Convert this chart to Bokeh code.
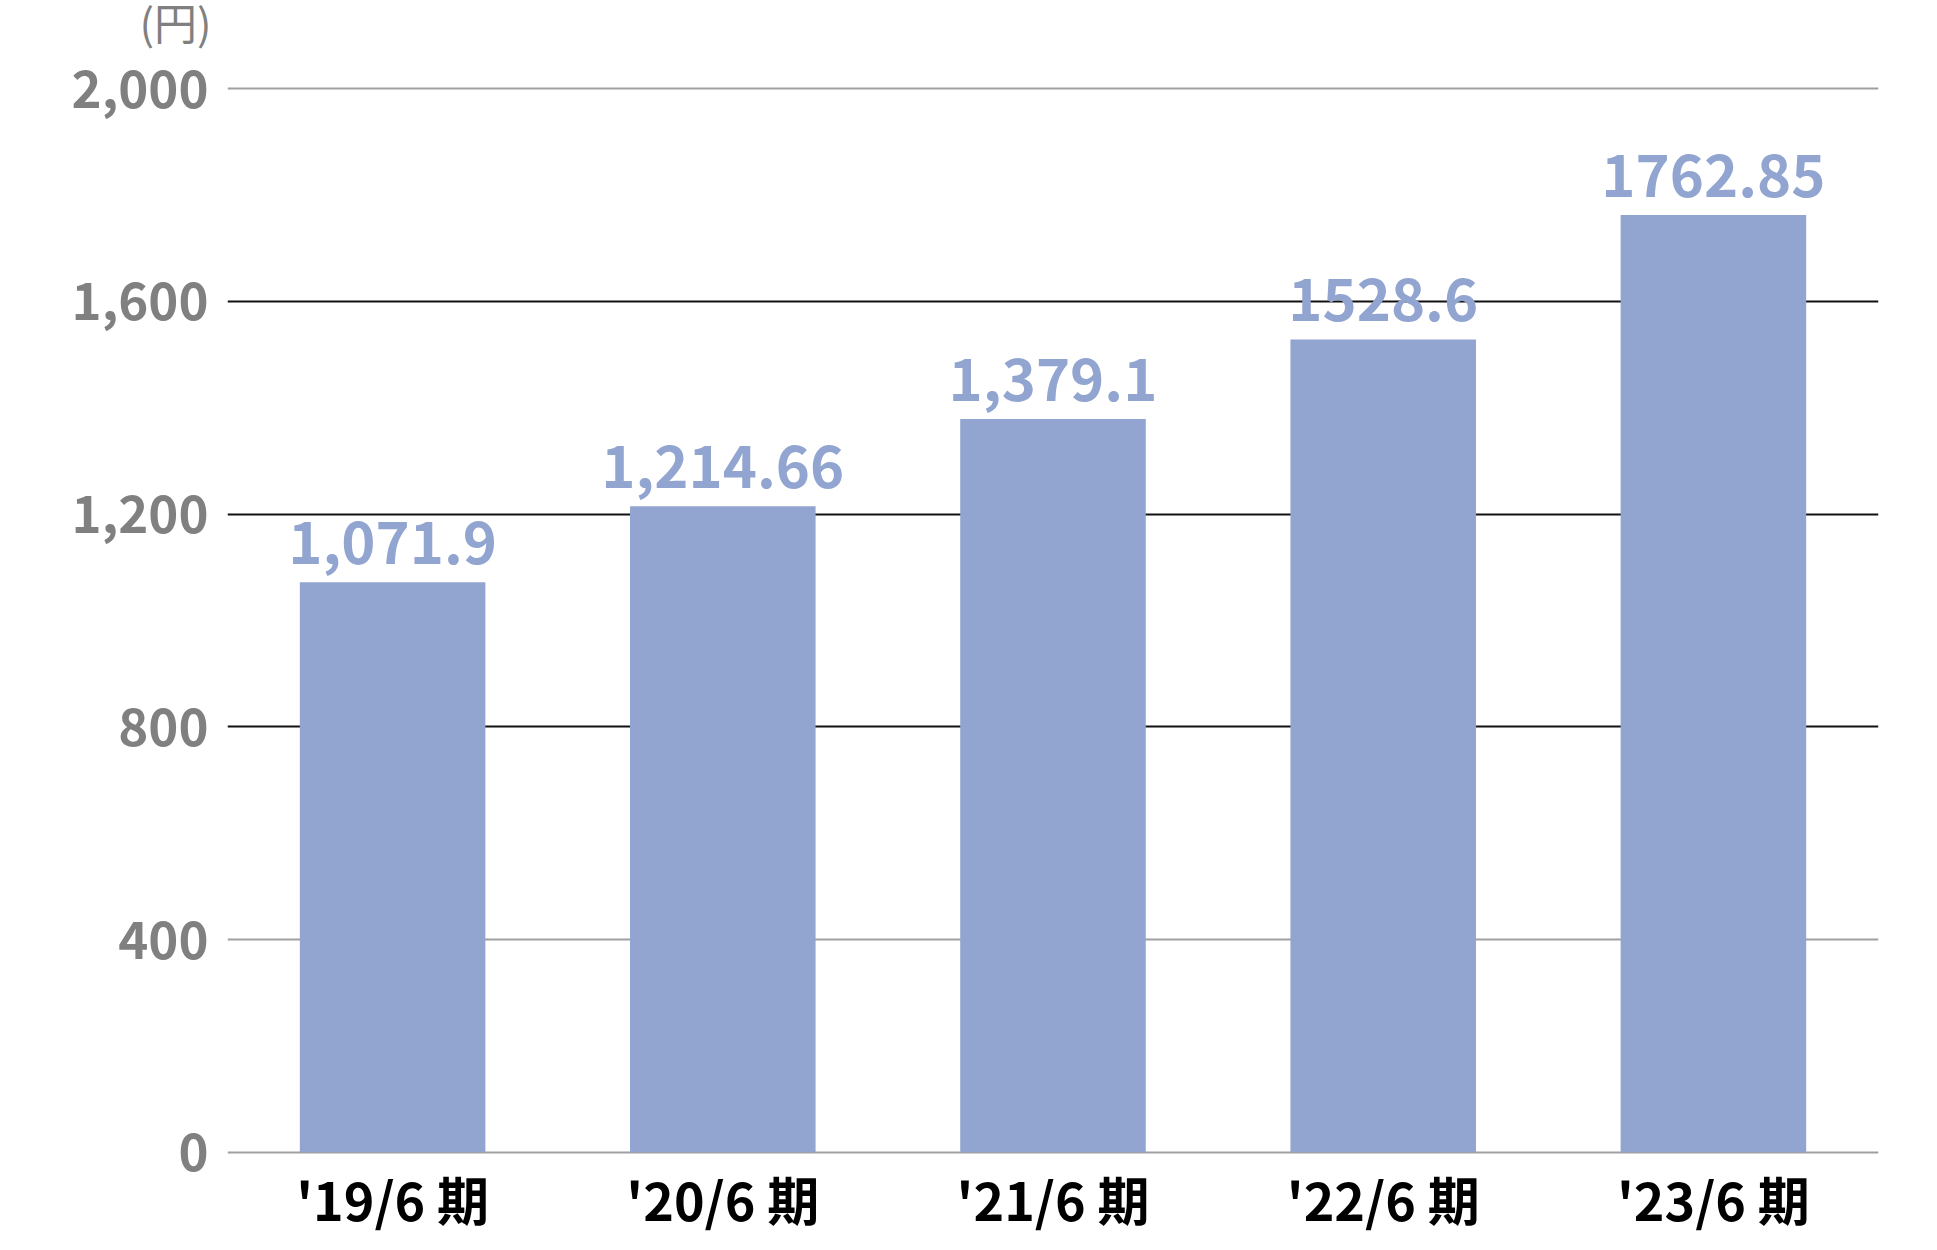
from bokeh.plotting import figure
from bokeh.models import (ColumnDataSource, FactorRange, Range1d, FixedTicker,
                          NumeralTickFormatter, Grid, LabelSet, Title)
from bokeh.core.properties import value
from bokeh.embed import file_html
from bokeh.resources import INLINE

categories = ["'19/6 期", "'20/6 期", "'21/6 期", "'22/6 期", "'23/6 期"]
values = [1071.9, 1214.66, 1379.1, 1528.6, 1762.85]
value_labels = ["1,071.9", "1,214.66", "1,379.1", "1528.6", "1762.85"]
y_ticks = [0, 400, 800, 1200, 1600, 2000]
gray_grid_ticks = [0, 400, 2000]
dark_grid_ticks = [800, 1200, 1600]
unit_text = "(円)"

FONT = "Noto Sans CJK JP"
BAR_COLOR = "#92A5D1"

src = ColumnDataSource(dict(cat=categories, val=values, lab=value_labels))

p = figure(x_range=FactorRange(*categories, range_padding=0),
           y_range=Range1d(-10, 2010),
           frame_width=1651, frame_height=1074,
           min_border_left=227, min_border_right=40,
           min_border_top=83, min_border_bottom=70,
           output_backend="svg", toolbar_location=None,
           background_fill_color="white", border_fill_color="white")
p.outline_line_color = None
p.xgrid.visible = False
p.ygrid.visible = False

# unit title; an empty second line raises the text within the top border
p.title = Title(text=unit_text + "\n", align="left", offset=-88, standoff=-30,
                vertical_align="top", text_line_height=0.73,
                text_font=FONT, text_font_size="43px",
                text_font_style="normal", text_color="#808080")

g1 = Grid(dimension=1, ticker=FixedTicker(ticks=gray_grid_ticks),
          grid_line_color="#A0A0A0", grid_line_width=2)
g2 = Grid(dimension=1, ticker=FixedTicker(ticks=dark_grid_ticks),
          grid_line_color="#111111", grid_line_width=2)
p.add_layout(g1)
p.add_layout(g2)

p.vbar(x="cat", top="val", bottom=0, width=0.562, source=src,
       fill_color=BAR_COLOR, line_color=None)

labels = LabelSet(x="cat", y="val", text="lab", source=src,
                  text_align="center", text_baseline="alphabetic",
                  y_offset=18, text_font=value(FONT), text_font_style="bold",
                  text_font_size="58px", text_color=BAR_COLOR)
p.add_layout(labels)

# y axis
p.yaxis.ticker = FixedTicker(ticks=y_ticks)
p.yaxis.formatter = NumeralTickFormatter(format="0,0")
p.yaxis.axis_line_color = None
p.yaxis.major_tick_line_color = None
p.yaxis.minor_tick_line_color = None
p.yaxis.major_tick_out = 0
p.yaxis.major_tick_in = 0
p.yaxis.major_label_standoff = 19
p.yaxis.major_label_text_font = FONT
p.yaxis.major_label_text_font_style = "bold"
p.yaxis.major_label_text_font_size = "51px"
p.yaxis.major_label_text_color = "#808080"

# x axis
p.xaxis.axis_line_color = None
p.xaxis.major_tick_line_color = None
p.xaxis.minor_tick_line_color = None
p.xaxis.major_tick_out = 0
p.xaxis.major_tick_in = 0
p.xaxis.major_label_standoff = 3
p.xaxis.major_label_text_font = FONT
p.xaxis.major_label_text_font_style = "bold"
p.xaxis.major_label_text_font_size = "52px"
p.xaxis.major_label_text_color = "#000000"

open("out.html", "w").write(file_html(p, INLINE))
